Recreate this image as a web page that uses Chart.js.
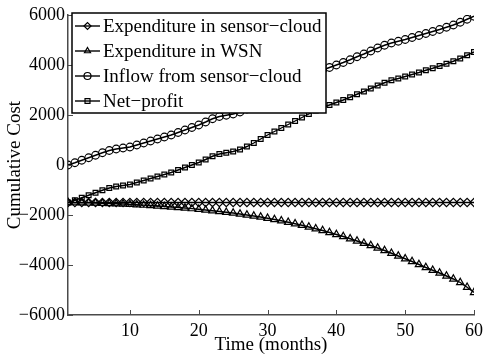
<!DOCTYPE html>
<html>
<head>
<meta charset="utf-8">
<script src="https://cdn.jsdelivr.net/npm/chart.js@4.4.0/dist/chart.umd.min.js"></script>
<style>
  body { margin: 0; background: #fff; }
  canvas { display: block; }
</style>
</head>
<body>
<canvas id="myChart" width="488" height="356"></canvas>
<script>
'use strict';

// data
let months = Array.from({ length: 60 }, (_, i) => i + 1);
let xTicks = [10, 20, 30, 40, 50, 60];
let yTicks = [-6000, -4000, -2000, 0, 2000, 4000, 6000];

let seriesNames = ['Expenditure in sensor\u2212cloud', 'Expenditure in WSN', 'Inflow from sensor\u2212cloud', 'Net\u2212profit'];

let expSensorCloud = [
  -1500, -1500, -1500, -1500, -1500, -1500, -1500, -1500, -1500, -1500,
  -1500, -1500, -1500, -1500, -1500, -1500, -1500, -1500, -1500, -1500,
  -1500, -1500, -1500, -1500, -1500, -1500, -1500, -1500, -1500, -1500,
  -1500, -1500, -1500, -1500, -1500, -1500, -1500, -1500, -1500, -1500,
  -1500, -1500, -1500, -1500, -1500, -1500, -1500, -1500, -1500, -1500,
  -1500, -1500, -1500, -1500, -1500, -1500, -1500, -1500, -1500, -1500
];

let expWSN = [
  -1500, -1505, -1510, -1515, -1520, -1530, -1540, -1550, -1560, -1575,
  -1590, -1605, -1620, -1640, -1660, -1680, -1700, -1720, -1745, -1770,
  -1800, -1830, -1860, -1890, -1920, -1960, -2000, -2040, -2080, -2130,
  -2180, -2230, -2290, -2350, -2410, -2480, -2550, -2620, -2700, -2780,
  -2860, -2950, -3040, -3130, -3220, -3320, -3420, -3530, -3640, -3750,
  -3860, -3980, -4100, -4210, -4320, -4440, -4560, -4700, -4890, -5100
];

let inflow = [
  0, 90, 190, 290, 390, 490, 580, 640, 680, 720,
  800, 880, 960, 1040, 1120, 1200, 1300, 1400, 1500, 1600,
  1720, 1850, 1940, 1990, 2040, 2120, 2240, 2380, 2540, 2700,
  2840, 2980, 3120, 3260, 3400, 3540, 3680, 3800, 3900, 4000,
  4100, 4210, 4330, 4440, 4560, 4680, 4790, 4880, 4950, 5020,
  5100, 5180, 5260, 5340, 5420, 5510, 5600, 5710, 5830, 5950
];

let netProfit = [
  -1500, -1410, -1310, -1210, -1110, -1010, -920, -860, -820, -780,
  -700, -620, -540, -460, -380, -300, -200, -100, 0, 100,
  220, 350, 440, 490, 540, 620, 740, 880, 1040, 1200,
  1340, 1480, 1620, 1760, 1900, 2040, 2180, 2300, 2400, 2500,
  2600, 2710, 2830, 2940, 3060, 3180, 3290, 3390, 3460, 3540,
  3620, 3700, 3790, 3870, 3960, 4050, 4150, 4260, 4390, 4520
];

let markerStyles = ['rectRot', 'triangle', 'circle', 'rect'];
let markerSizes = [4.2, 4.2, 3.8, 3.4];
let allSeries = [expSensorCloud, expWSN, inflow, netProfit];

let serif = '"Liberation Serif", "DejaVu Serif", serif';
let axisColor = '#4a4a4a';

function minusSign(v) {
  return String(v).replace('-', '\u2212');
}

function makeDataset(i) {
  return {
    label: seriesNames[i],
    data: months.map((m, j) => ({ x: m, y: allSeries[i][j] })),
    borderColor: '#000',
    borderWidth: 1.4,
    pointStyle: markerStyles[i],
    pointRadius: markerSizes[i],
    pointBorderColor: '#000',
    pointBorderWidth: 1.2,
    pointBackgroundColor: 'rgba(0,0,0,0)',
    tension: 0
  };
}

// axis ticks pointing into the plot, like the original
let inwardTicks = {
  id: 'inwardTicks',
  afterDatasetsDraw(chart) {
    let ctx = chart.ctx;
    let area = chart.chartArea;
    let xs = chart.scales.x;
    let ys = chart.scales.y;
    ctx.save();
    ctx.strokeStyle = axisColor;
    ctx.lineWidth = 1;
    ctx.beginPath();
    xTicks.forEach(v => {
      let px = Math.round(xs.getPixelForValue(v)) + 0.5;
      ctx.moveTo(px, area.bottom);
      ctx.lineTo(px, area.bottom - 5);
    });
    yTicks.forEach(v => {
      let py = Math.round(ys.getPixelForValue(v)) + 0.5;
      ctx.moveTo(area.left, py);
      ctx.lineTo(area.left + 5, py);
    });
    ctx.stroke();
    ctx.restore();
  }
};

// matlab-style legend box: line + marker + text
let boxLegend = {
  id: 'boxLegend',
  afterDraw(chart) {
    let ctx = chart.ctx;
    let area = chart.chartArea;
    let left = area.left + 4;
    let top = area.top - 2;
    let w = 254;
    let h = 100;
    let rowH = 25;
    ctx.save();
    ctx.fillStyle = '#fff';
    ctx.fillRect(left, top, w, h);
    ctx.strokeStyle = '#000';
    ctx.lineWidth = 1.5;
    ctx.strokeRect(left, top, w, h);
    ctx.font = '19px ' + serif;
    ctx.textBaseline = 'middle';
    chart.data.datasets.forEach((ds, i) => {
      let cy = top + 13 + i * rowH;
      ctx.strokeStyle = '#000';
      ctx.lineWidth = 1.4;
      ctx.beginPath();
      ctx.moveTo(left + 3, cy);
      ctx.lineTo(left + 28, cy);
      ctx.stroke();
      ctx.lineWidth = 1.2;
      ctx.fillStyle = 'rgba(0,0,0,0)';
      Chart.helpers.drawPoint(ctx, { pointStyle: ds.pointStyle, radius: 3.5, rotation: 0, borderWidth: 1.2 }, left + 15.5, cy);
      ctx.fillStyle = '#000';
      ctx.fillText(ds.label, left + 31, cy + 1);
    });
    ctx.restore();
  }
};

let ctx = document.getElementById('myChart').getContext('2d');
let myChart = new Chart(ctx, {
  type: 'line',
  data: {
    datasets: [makeDataset(0), makeDataset(1), makeDataset(2), makeDataset(3)]
  },
  options: {
    responsive: false,
    animation: false,
    devicePixelRatio: 1,
    layout: { padding: { top: 15, right: 10, left: 0, bottom: 0 } },
    plugins: {
      legend: { display: false },
      tooltip: { enabled: false }
    },
    scales: {
      x: {
        type: 'linear',
        min: 1,
        max: 60,
        afterBuildTicks: scale => { scale.ticks = xTicks.map(v => ({ value: v })); },
        afterFit: scale => { scale.height = 41; },
        grid: { display: false, drawTicks: false },
        border: { display: true, color: axisColor, width: 1.5 },
        ticks: { color: '#000', font: { family: serif, size: 18 }, padding: 5, maxRotation: 0 },
        title: { display: true, text: 'Time (months)', color: '#000', font: { family: serif, size: 19 }, padding: { top: -7, bottom: 0 } }
      },
      y: {
        min: -6000,
        max: 6000,
        afterBuildTicks: scale => { scale.ticks = yTicks.map(v => ({ value: v })); },
        afterFit: scale => { scale.width = 68; },
        grid: { display: false, drawTicks: false },
        border: { display: true, color: axisColor, width: 1.5 },
        ticks: { color: '#000', font: { family: serif, size: 18 }, padding: 3, callback: v => minusSign(v) },
        title: { display: true, text: 'Cumulative Cost', color: '#000', font: { family: serif, size: 19 }, padding: { top: 4, bottom: 0 } }
      }
    }
  },
  plugins: [inwardTicks, boxLegend]
});
</script>
</body>
</html>
